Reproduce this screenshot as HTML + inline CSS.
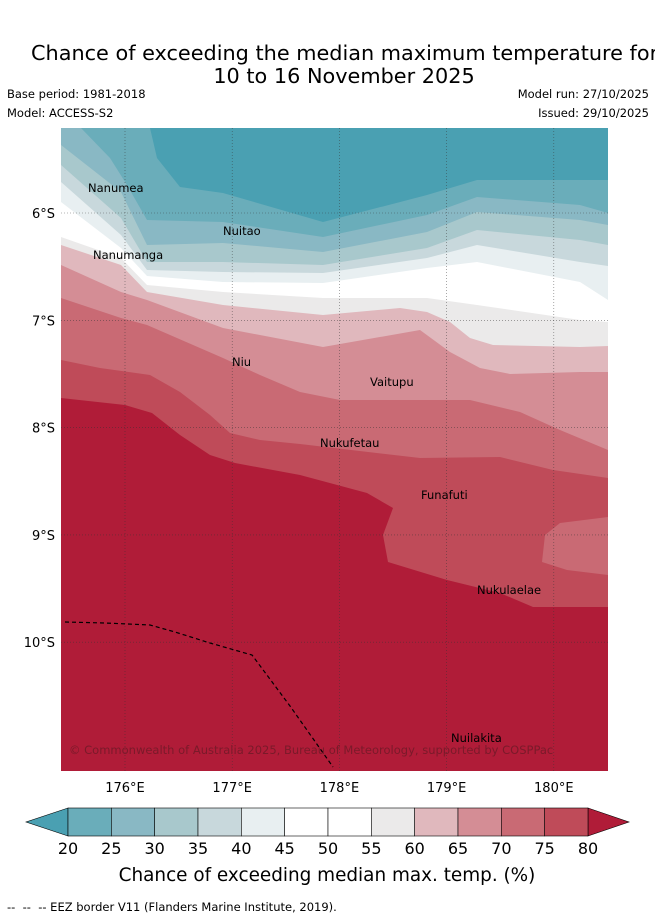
<!DOCTYPE html>
<html><head><meta charset="utf-8"><style>
html,body{margin:0;padding:0;background:#fff;}
body{width:655px;height:919px;position:relative;overflow:hidden;font-family:"DejaVu Sans","Liberation Sans",sans-serif;}
.t{position:absolute;white-space:nowrap;color:#000;}
</style></head><body>
<div class="t" style="left:31px;top:41px;font-size:20.8px;line-height:24px;">Chance of exceeding the median maximum temperature for</div>
<div class="t" style="left:0;width:688px;text-align:center;top:64px;font-size:20.8px;line-height:24px;">10 to 16 November 2025</div>
<div class="t" style="left:7px;top:87px;font-size:11.5px;">Base period: 1981-2018</div>
<div class="t" style="left:7px;top:106px;font-size:11.5px;">Model: ACCESS-S2</div>
<div class="t" style="right:6px;top:87px;font-size:11.5px;">Model run: 27/10/2025</div>
<div class="t" style="right:6px;top:106px;font-size:11.5px;">Issued: 29/10/2025</div>
<svg id="map" width="655" height="919" style="position:absolute;left:0;top:0" xmlns="http://www.w3.org/2000/svg"></svg>
<div class="t" style="left:7px;top:900px;font-size:11.5px;">-- &nbsp;-- &nbsp;-- EEZ border V11 (Flanders Marine Institute, 2019).</div>
<script>
// Data
const levels = [20,25,30,35,40,45,55,60,65,70,75,80];
const bandColors = ['#4aa0b2','#6aadba','#89b8c4','#a8c8cc','#c8d8dc','#e8eff1','#ffffff','#ebeaea','#e0b8bd','#d48d95','#c96a74','#bf4b59','#b01c38'];
const c20 = [[150,128],[157,158],[180,187],[223,193],[323,222],[427,195],[477,180],[580,180],[608,180]];
const c25 = [[81,128],[110,158],[127,185],[147,220],[223,222],[323,237],[427,215],[477,197],[580,205],[608,213]];
const c30 = [[61,145],[121,192],[147,245],[223,243],[323,252],[427,232],[477,212],[580,220],[608,225]];
const c35 = [[61,165],[121,218],[147,262],[223,262],[323,265],[427,248],[477,230],[580,240],[608,245]];
const c40 = [[61,182],[121,235],[147,270],[223,272],[323,273],[427,258],[477,245],[580,262],[608,266]];
const c45 = [[61,202],[121,248],[147,276],[223,282],[323,283],[427,268],[477,262],[580,282],[608,300]];
const c55 = [[61,237],[121,258],[147,285],[223,292],[323,298],[427,298],[477,305],[580,320],[608,322]];
const c60 = [[61,245],[121,265],[147,292],[223,305],[323,315],[400,308],[427,312],[450,322],[470,338],[493,345],[580,347],[608,346]];
const c65 = [[61,265],[121,292],[147,300],[223,328],[323,347],[420,330],[450,352],[480,368],[510,374],[580,372],[608,372]];
const c70 = [[61,298],[121,318],[147,325],[223,358],[260,375],[300,392],[340,400],[420,400],[470,400],[520,412],[560,430],[608,450]];
const c75 = [[61,360],[100,368],[150,375],[180,392],[210,415],[230,433],[260,440],[300,444],[420,458],[500,457],[553,470],[608,478]];
const c80 = [[61,398],[125,405],[152,413],[180,435],[210,455],[235,463],[300,475],[367,493],[393,508],[383,535],[388,562],[447,580],[500,593],[533,607],[608,607]];
const pocket75 = [[608,517],[560,523],[545,535],[542,562],[567,570],[608,575]];
const contours = [c20,c25,c30,c35,c40,c45,c55,c60,c65,c70,c75,c80];
const lonTicks = [176,177,178,179,180];
const latTicks = [-6,-7,-8,-9,-10];
const islands = [["Nanumea",88,188],["Nuitao",223,231],["Nanumanga",93,255],["Niu",232,362],["Vaitupu",370,382],["Nukufetau",320,443],["Funafuti",421,495],["Nukulaelae",477,590],["Nuilakita",451,738]];
const eez = [[65,622],[105,623],[150,625],[175,632],[210,643],[252,655],[290,706],[333,767]];

const svg = document.getElementById('map');
const NS='http://www.w3.org/2000/svg';
const FF='DejaVu Sans, Liberation Sans, sans-serif';
const X0=61,X1=608,Y0=128,Y1=771;
const lonX = v => 125 + (v-176)*107.2;
const latY = v => 213 + (-6 - v)*107.3;
function mk(tag,attrs){const e=document.createElementNS(NS,tag);for(const k in attrs)e.setAttribute(k,attrs[k]);svg.appendChild(e);return e;}
const pts = a => a.map(p=>p.join(',')).join(' ');

const base = mk('rect',{x:X0,y:Y0,width:X1-X0,height:Y1-Y0,fill:bandColors[12]});


for(let i=contours.length-1;i>=0;i--){
  const c=contours[i];
  const poly=[[X0,Y0]].concat(c[0][0]>X0?[[c[0][0],Y0]]:[]).concat(c).concat([[X1,Y0]]);
  const p = mk('polygon',{points:pts(poly),fill:bandColors[i]});
  
  
  if(levels[i]===80){
    const q = mk('polygon',{points:pts(pocket75),fill:bandColors[10]});
    
    
  }
}
lonTicks.forEach(v=>{
  const l=mk('line',{x1:lonX(v),x2:lonX(v),y1:Y0,y2:Y1,stroke:'#333','stroke-width':0.6,'stroke-dasharray':'1,2',opacity:0.7});
  
  
  const t=mk('text',{x:lonX(v),y:792,'font-size':13,'text-anchor':'middle','font-family':FF});
  t.textContent=v+'°E';
  
  
});
latTicks.forEach(v=>{
  const l=mk('line',{x1:X0,x2:X1,y1:latY(v),y2:latY(v),stroke:'#333','stroke-width':0.6,'stroke-dasharray':'1,2',opacity:0.7});
  
  
  const t=mk('text',{x:55,y:latY(v)+5,'font-size':13,'text-anchor':'end','font-family':FF});
  t.textContent=(-v)+'°S';
  
  
});
const ez = mk('polyline',{points:pts(eez),fill:'none',stroke:'#000','stroke-width':1.2,'stroke-dasharray':'4,3'});


islands.forEach(d=>{
  const t=mk('text',{x:d[1],y:d[2]+4,'font-size':11.5,'font-family':FF});
  t.textContent=d[0];
  
  
});
const cp=mk('text',{x:69,y:754,'font-size':11.5,fill:'#7a1a2a','font-family':FF});
cp.textContent='© Commonwealth of Australia 2025, Bureau of Meteorology, supported by COSPPac';



// colorbar
const CB0=68,CB1=588,CBY=808,CBH=28;
const cbX = v => CB0 + (v-20)/60*(CB1-CB0);
const cbLevels=[20,25,30,35,40,45,50,55,60,65,70,75,80];
const cbColors=['#6aadba','#89b8c4','#a8c8cc','#c8d8dc','#e8eff1','#ffffff','#ffffff','#ebeaea','#e0b8bd','#d48d95','#c96a74','#bf4b59'];
const la=mk('polygon',{points:`${CB0},${CBY} ${CB0},${CBY+CBH} 26,${CBY+CBH/2}`,fill:bandColors[0],stroke:'#000','stroke-width':0.6});


const ra=mk('polygon',{points:`${CB1},${CBY} ${CB1},${CBY+CBH} 629,${CBY+CBH/2}`,fill:bandColors[12],stroke:'#000','stroke-width':0.6});


for(let i=0;i<cbColors.length;i++){
  const r=mk('rect',{x:cbX(cbLevels[i]),y:CBY,width:cbX(cbLevels[i+1])-cbX(cbLevels[i]),height:CBH,fill:cbColors[i],stroke:'#000','stroke-width':0.6});
  
  
}
cbLevels.forEach(v=>{
  const t=mk('text',{x:cbX(v),y:854,'font-size':16,'text-anchor':'middle','font-family':FF});
  t.textContent=v;
  
  
});
const ct=mk('text',{x:327,y:881,'font-size':18.4,'text-anchor':'middle','font-family':FF});
ct.textContent='Chance of exceeding median max. temp. (%)';


</script>
</body></html>
